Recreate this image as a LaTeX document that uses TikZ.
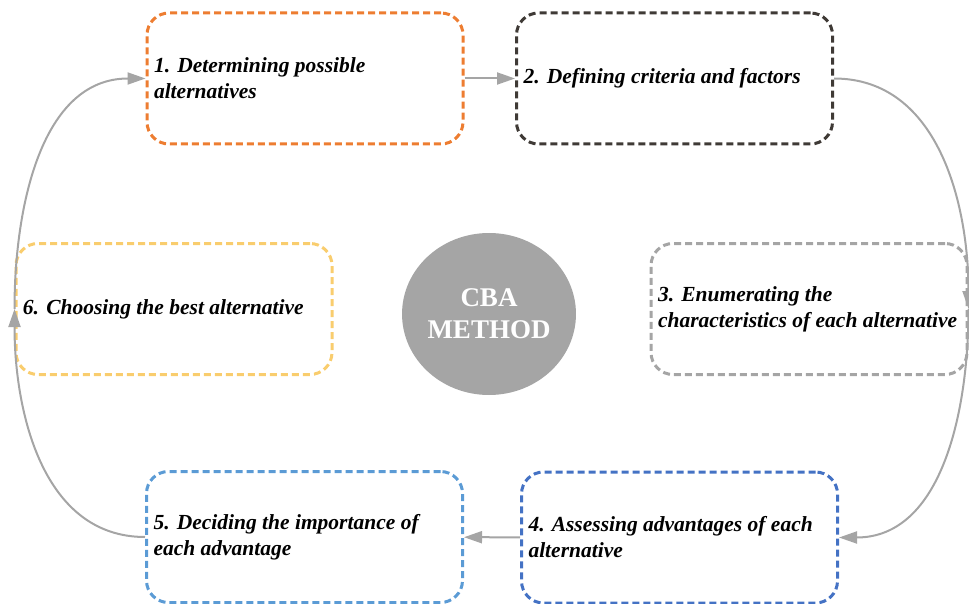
\documentclass[tikz,border=0pt]{standalone}
\usepackage{fontspec}
\setmainfont{Liberation Serif}
\usetikzlibrary{arrows.meta,shapes.geometric}
\definecolor{ocol}{HTML}{ED7D31}
\definecolor{dcol}{HTML}{3F3A36}
\definecolor{gcol}{HTML}{A5A5A5}
\definecolor{bcol}{HTML}{4472C4}
\definecolor{lcol}{HTML}{5B9BD5}
\definecolor{ycol}{HTML}{F9CD6E}
\tikzset{every picture/.style={x=1pt,y=-1pt}}
\tikzset{stepbox/.style={draw=#1,dash pattern=on 7pt off 4pt,line width=3pt,rounded corners=22pt,minimum width=316pt,minimum height=131pt,text width=302pt,inner xsep=7pt,inner ysep=6pt,align=flush left,text=black,font=\fontsize{21.5}{26}\selectfont\bfseries\itshape}}
\tikzset{hub/.style={ellipse,fill=gcol,text=white,minimum width=172pt,minimum height=162pt,inner sep=0pt,align=center,font=\fontsize{27}{32}\selectfont\bfseries}}
\tikzset{edge/.style={gcol,line width=2pt,-{Triangle[length=18pt,width=12pt]}}}
\begin{document}
\begin{tikzpicture}
\useasboundingbox (0,0) rectangle (969,604);

\node [stepbox=ocol] (s1) at (305,78.5) {1. Determining possible\\alternatives};
\node [stepbox=dcol] (s2) at (674.5,78.5) {2. Defining criteria and factors};
\node [stepbox=gcol] (s3) at (809,309) {3. Enumerating the\\characteristics of each alternative};
\node [stepbox=bcol] (s4) at (679.5,537.5) {4. Assessing advantages of each\\alternative};
\node [stepbox=lcol] (s5) at (304.5,537) {5. Deciding the importance of\\each advantage};
\node [stepbox=ycol] (s6) at (174,309) {6. Choosing the best alternative};

\node [hub] (cba) at (489,314) {CBA\\METHOD};

\draw [edge] (s1) -- (s2);
\draw [edge] (s2.east) to[out=0,in=90] (s3.east);
\draw [edge] (s3.east) to[out=-90,in=0] (s4.east);
\draw [edge] (s4) -- (s5);
\draw [edge] (s5.west) to[out=180,in=-90] (s6.west);
\draw [edge] (s6.west) to[out=90,in=180] (s1.west);
\end{tikzpicture}
\end{document}
